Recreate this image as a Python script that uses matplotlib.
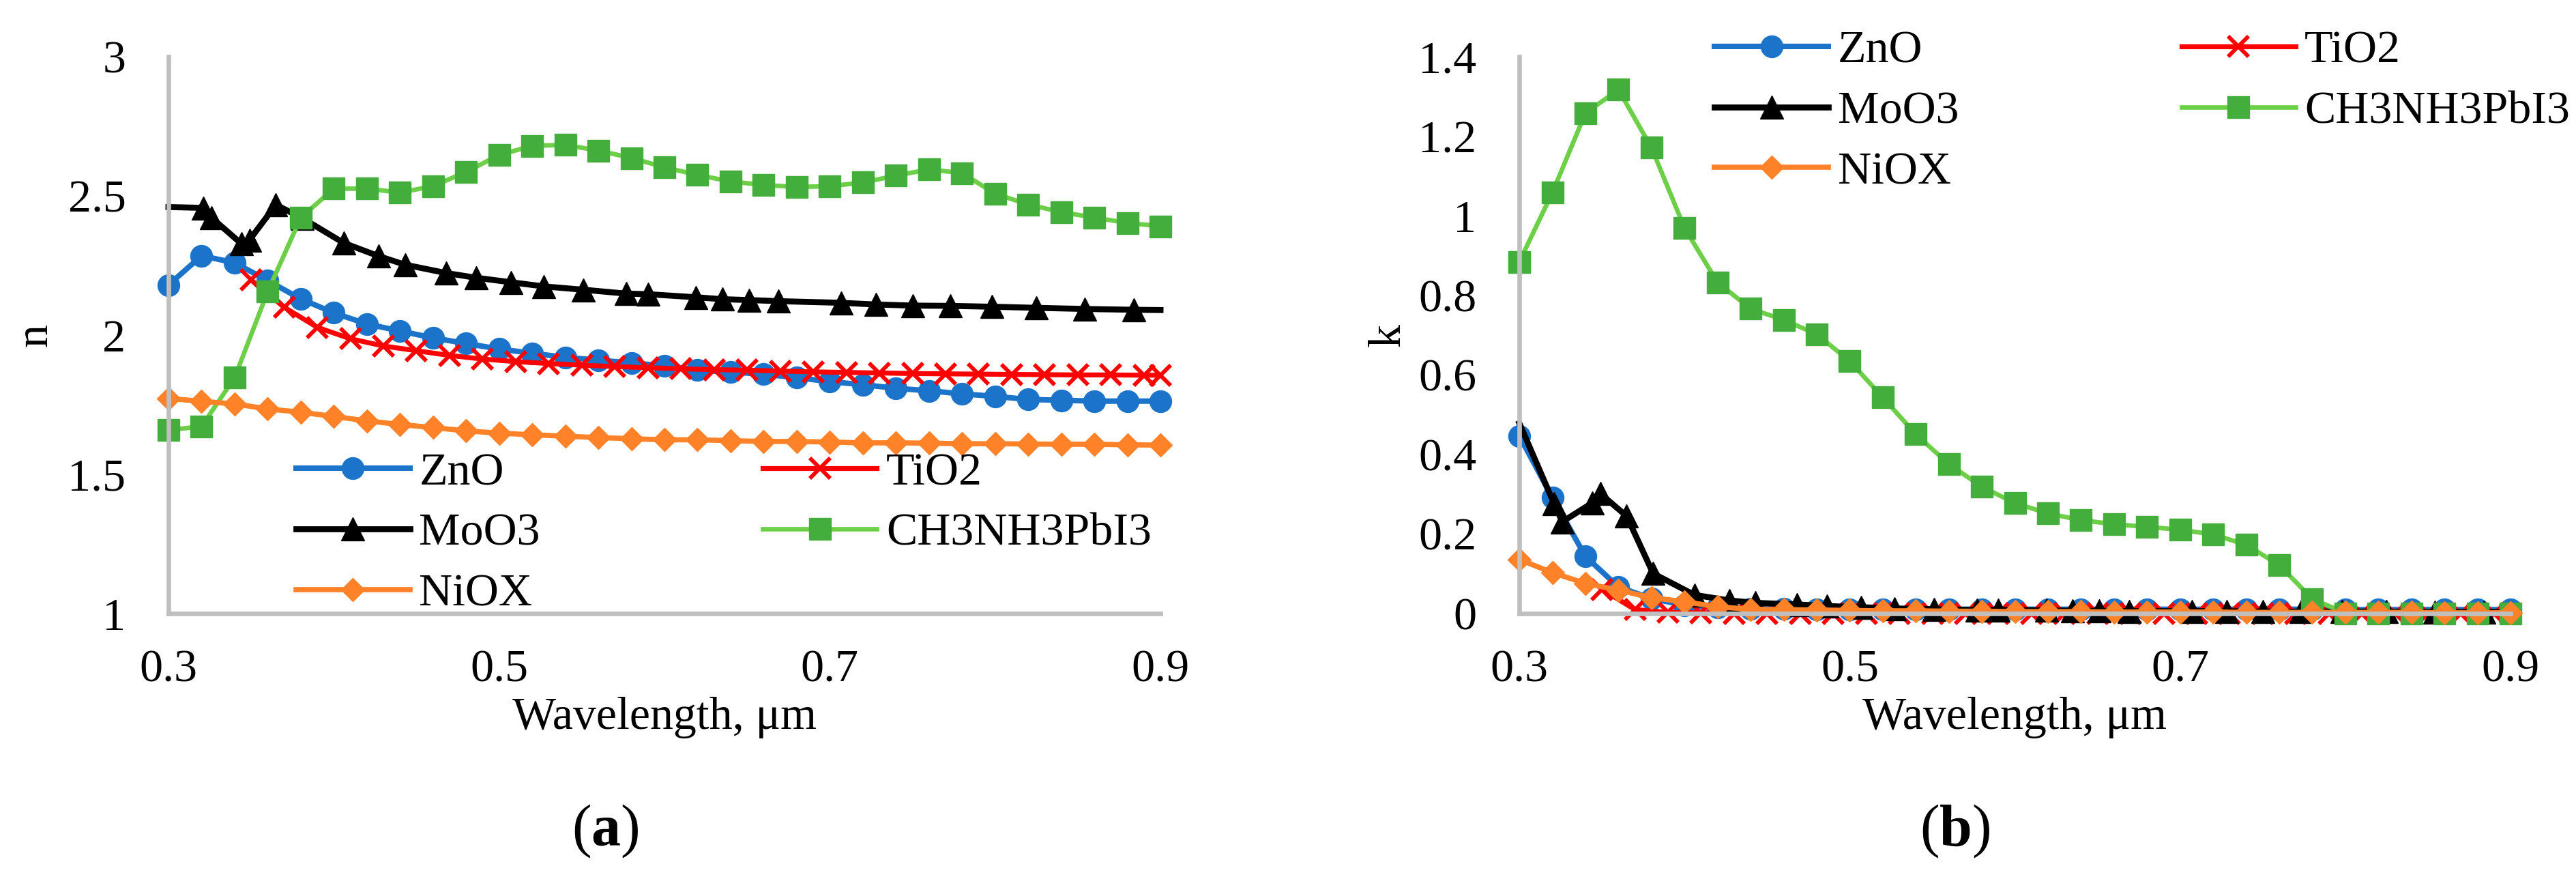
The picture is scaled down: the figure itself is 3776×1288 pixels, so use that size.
import matplotlib
matplotlib.use("Agg")
import matplotlib.pyplot as plt

plt.rcParams['font.family'] = ['Liberation Serif', 'DejaVu Serif']
plt.rcParams['mathtext.fontset'] = 'custom'
plt.rcParams['mathtext.rm'] = 'Liberation Serif'
plt.rcParams['mathtext.bf'] = 'Liberation Serif:bold'

# wavelengths (um) shared by ZnO, CH3NH3PbI3, NiOX
wl = [0.30, 0.32, 0.34, 0.36, 0.38, 0.40, 0.42, 0.44, 0.46, 0.48, 0.50,
      0.52, 0.54, 0.56, 0.58, 0.60, 0.62, 0.64, 0.66, 0.68, 0.70,
      0.72, 0.74, 0.76, 0.78, 0.80, 0.82, 0.84, 0.86, 0.88, 0.90]
wl_tio2 = [0.35, 0.37, 0.39, 0.41, 0.43, 0.45, 0.47, 0.49, 0.51, 0.53,
           0.55, 0.57, 0.59, 0.61, 0.63, 0.65, 0.67, 0.69, 0.71, 0.73,
           0.75, 0.77, 0.79, 0.81, 0.83, 0.85, 0.87, 0.89, 0.90]
wl_moo3 = [0.300, 0.321, 0.326, 0.344, 0.349, 0.365, 0.381, 0.406, 0.427, 0.443,
           0.468, 0.486, 0.507, 0.527, 0.551, 0.577, 0.590, 0.619, 0.635, 0.651,
           0.669, 0.707, 0.728, 0.750, 0.773, 0.798, 0.825, 0.854, 0.884, 0.900]

# refractive index n
n_zno = [2.18, 2.285, 2.26, 2.196, 2.13, 2.08, 2.04, 2.015, 1.99, 1.97, 1.95,
         1.935, 1.92, 1.91, 1.90, 1.89, 1.874, 1.867, 1.86, 1.847, 1.833,
         1.822, 1.809, 1.80, 1.789, 1.78, 1.769, 1.766, 1.763, 1.763, 1.763]
n_tio2 = [2.198, 2.10, 2.028, 1.987, 1.961, 1.944, 1.927, 1.914, 1.905, 1.898,
          1.892, 1.887, 1.883, 1.879, 1.876, 1.874, 1.871, 1.868, 1.866, 1.864,
          1.862, 1.861, 1.860, 1.859, 1.858, 1.857, 1.857, 1.856, 1.856]
n_moo3 = [2.460, 2.457, 2.422, 2.329, 2.342, 2.468, 2.420, 2.331, 2.284, 2.253,
          2.223, 2.206, 2.190, 2.175, 2.163, 2.149, 2.147, 2.136, 2.129, 2.126,
          2.122, 2.116, 2.110, 2.106, 2.105, 2.102, 2.098, 2.094, 2.091, 2.090]
n_mapi = [1.659, 1.672, 1.847, 2.156, 2.422, 2.526, 2.526, 2.512, 2.535, 2.586, 2.647,
          2.680, 2.683, 2.663, 2.636, 2.603, 2.575, 2.552, 2.539, 2.532, 2.535,
          2.548, 2.573, 2.595, 2.582, 2.508, 2.469, 2.442, 2.422, 2.403, 2.391]
n_niox = [1.773, 1.762, 1.753, 1.735, 1.723, 1.708, 1.692, 1.679, 1.668, 1.656, 1.648,
          1.642, 1.637, 1.632, 1.628, 1.624, 1.624, 1.621, 1.618, 1.618, 1.616,
          1.613, 1.613, 1.612, 1.610, 1.610, 1.609, 1.608, 1.608, 1.606, 1.605]

# extinction coefficient k
k_zno = [0.446, 0.291, 0.143, 0.066, 0.037, 0.020, 0.014, 0.012, 0.011, 0.010, 0.010,
         0.010, 0.010, 0.010, 0.010, 0.010, 0.010, 0.010, 0.010, 0.010, 0.010,
         0.010, 0.010, 0.010, 0.010, 0.009, 0.009, 0.009, 0.009, 0.009, 0.009]
k_tio2 = [0.060, 0.009, 0.002, 0.001, 0, 0, 0, 0, 0, 0,
          0, 0, 0, 0, 0, 0, 0, 0, 0, 0,
          0, 0, 0, 0, 0, 0, 0, 0, 0]
k_moo3 = [0.478, 0.276, 0.230, 0.277, 0.301, 0.244, 0.100, 0.046, 0.032, 0.026,
          0.022, 0.018, 0.015, 0.012, 0.010, 0.008, 0.008, 0.007, 0.006, 0.006,
          0.005, 0.005, 0.005, 0.004, 0.004, 0.004, 0.004, 0.003, 0.003, 0.003]
k_mapi = [0.884, 1.058, 1.258, 1.317, 1.171, 0.969, 0.832, 0.766, 0.738, 0.702, 0.634,
          0.543, 0.450, 0.375, 0.318, 0.277, 0.251, 0.234, 0.224, 0.217, 0.210,
          0.198, 0.172, 0.121, 0.036, 0, 0, 0, 0, 0, 0]
k_niox = [0.135, 0.102, 0.075, 0.058, 0.039, 0.029, 0.016, 0.010, 0.009, 0.008, 0.007,
          0.006, 0.006, 0.005, 0.005, 0.004, 0.004, 0.004, 0.003, 0.003, 0.003,
          0.003, 0.002, 0.002, 0.002, 0.002, 0.002, 0.002, 0.001, 0.001, 0.001]

x_ticks = [0.3, 0.5, 0.7, 0.9]
x_labels = ['0.3', '0.5', '0.7', '0.9']
n_ticks = [1, 1.5, 2, 2.5, 3]
n_labels = ['1', '1.5', '2', '2.5', '3']
k_ticks = [0, 0.2, 0.4, 0.6, 0.8, 1.0, 1.2, 1.4]
k_labels = ['0', '0.2', '0.4', '0.6', '0.8', '1', '1.2', '1.4']

FS = 49
AXIS_GRAY = '#BFBFBF'

styles = {
    'ZnO': dict(color='#1B74C9', lw=5.8, marker='o', ms=23, mfc='#1B74C9', mec='#1B74C9'),
    'TiO2': dict(color='#FF0000', lw=5.2, marker='x', ms=22, mec='#FF0000', mew=4.2),
    'MoO3': dict(color='black', lw=6.3, marker='^', ms=24, mfc='black', mec='black'),
    'CH3NH3PbI3': dict(color='#6DCF48', lw=4.8, marker='s', ms=22.5, mfc='#44AE3C', mec='#44AE3C'),
    'NiOX': dict(color='#FF8228', lw=5.5, marker='D', ms=17, mfc='#FF8228', mec='#FF8228'),
}


def draw_panel(ax, zno, tio2, moo3, mapi, niox):
    h = {}
    h['ZnO'], = ax.plot(wl, zno, clip_on=False, label='ZnO', **styles['ZnO'])
    h['TiO2'], = ax.plot(wl_tio2, tio2, clip_on=False, label='TiO2', **styles['TiO2'])
    h['MoO3'], = ax.plot(wl_moo3, moo3, clip_on=False, label='MoO3',
                         markevery=list(range(1, len(wl_moo3) - 1)), **styles['MoO3'])
    h['CH3NH3PbI3'], = ax.plot(wl, mapi, clip_on=False, label='CH3NH3PbI3',
                               **styles['CH3NH3PbI3'])
    h['NiOX'], = ax.plot(wl, niox, clip_on=False, label='NiOX', **styles['NiOX'])

    ax.set_xlim(0.3, 0.9)
    ax.set_xticks(x_ticks)
    ax.set_xticklabels(x_labels)
    for s in ['top', 'right']:
        ax.spines[s].set_visible(False)
    for s in ['left', 'bottom']:
        ax.spines[s].set_color(AXIS_GRAY)
        ax.spines[s].set_linewidth(4.8)
    ax.tick_params(axis='both', length=0, labelsize=FS)
    ax.tick_params(axis='x', pad=38)
    ax.tick_params(axis='y', pad=45)
    order = ['ZnO', 'MoO3', 'NiOX', 'TiO2', 'CH3NH3PbI3']
    return [h[o] for o in order], order


fig = plt.figure(figsize=(37.76, 12.88), dpi=100)
ax1 = fig.add_axes([0.0654, 0.3020, 0.3851, 0.6335])
ax2 = fig.add_axes([0.5898, 0.3024, 0.3848, 0.6331])

legend_kw = dict(ncol=2, loc='upper left', frameon=False, fontsize=FS,
                 handlelength=2.45, handletextpad=0.2, columnspacing=4.8,
                 labelspacing=0.40, borderpad=0, borderaxespad=0)

hs, labs = draw_panel(ax1, n_zno, n_tio2, n_moo3, n_mapi, n_niox)
ax1.set_ylim(1, 3)
ax1.set_yticks(n_ticks)
ax1.set_yticklabels(n_labels)
ax1.set_ylabel('n', fontsize=FS)
ax1.yaxis.set_label_coords(-0.113, 0.5)
ax1.legend(hs, labs, bbox_to_anchor=(0.1286, 0.290), **legend_kw)

hs, labs = draw_panel(ax2, k_zno, k_tio2, k_moo3, k_mapi, k_niox)
ax2.set_ylim(0, 1.4)
ax2.set_yticks(k_ticks)
ax2.set_yticklabels(k_labels)
ax2.set_ylabel('k', fontsize=FS)
ax2.yaxis.set_label_coords(-0.111, 0.5)
ax2.legend(hs, labs, bbox_to_anchor=(0.197, 1.048), **legend_kw)

fig.text(0.2580, 0.1708, 'Wavelength, μm', fontsize=FS, ha='center', va='baseline')
fig.text(0.7821, 0.1708, 'Wavelength, μm', fontsize=FS, ha='center', va='baseline')
fig.text(0.2349, 0.0373, r'($\mathbf{a}$)', fontsize=62, ha='center', va='baseline')
fig.text(0.7590, 0.0373, r'($\mathbf{b}$)', fontsize=62, ha='center', va='baseline')

fig.savefig('out.png', dpi=100, facecolor='white')
